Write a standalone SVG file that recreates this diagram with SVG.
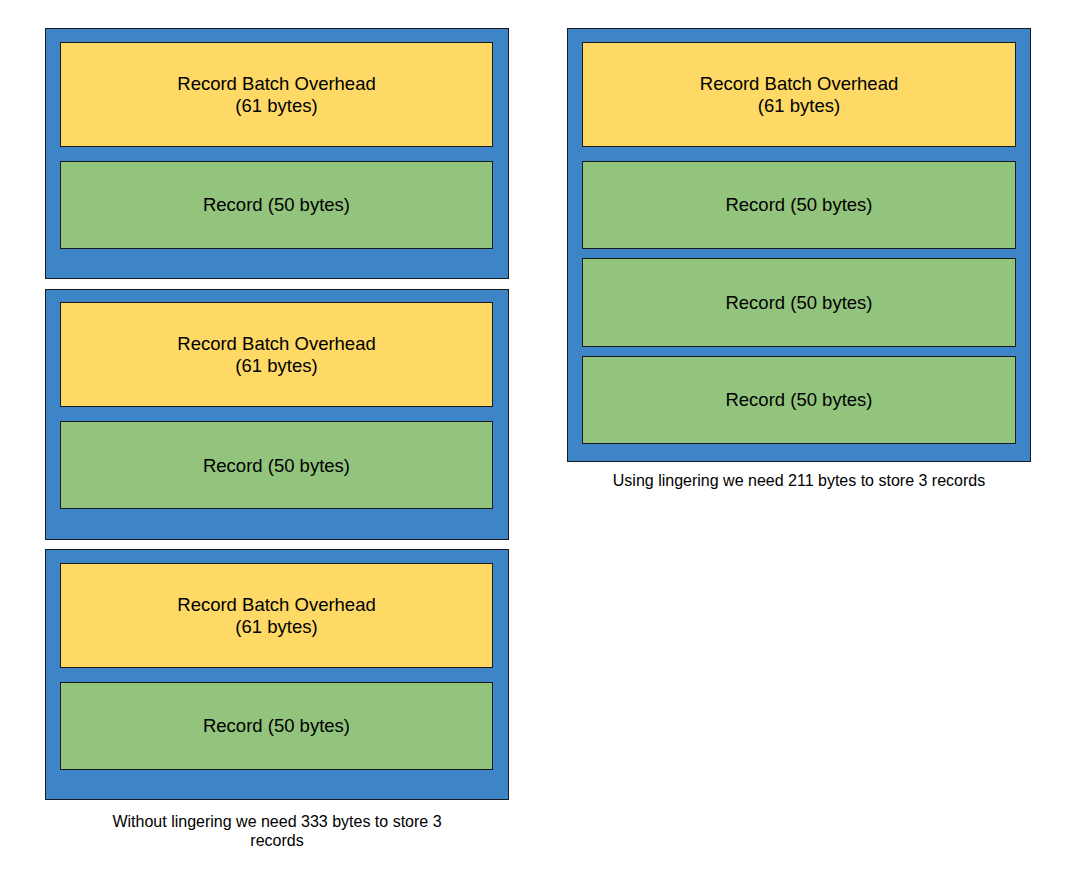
<svg xmlns="http://www.w3.org/2000/svg" width="1077" height="887" viewBox="0 0 1077 887">
<style>
.batch{fill:#3d85c6;stroke:#1a1a1a;stroke-width:1}
.ovh{fill:#ffd966;stroke:#1a1a1a;stroke-width:1}
.rec{fill:#93c47d;stroke:#1a1a1a;stroke-width:1}
.t{font-family:"Liberation Sans",Arial,sans-serif;font-size:18.5px;fill:#000;text-anchor:middle}
.c{font-family:"Liberation Sans",Arial,sans-serif;font-size:16px;fill:#000;text-anchor:middle}
</style>
<rect width="1077" height="887" fill="#fff"/>
<g id="batch1">
<rect class="batch" x="45.5" y="28.5" width="463" height="250"/>
<rect class="ovh" x="60.5" y="42.5" width="432" height="104"/>
<text class="t" x="276.5" y="90">Record Batch Overhead</text>
<text class="t" x="276.5" y="112">(61 bytes)</text>
<rect class="rec" x="60.5" y="161.5" width="432" height="87"/>
<text class="t" x="276.5" y="211">Record (50 bytes)</text>
</g>
<g id="batch2">
<rect class="batch" x="45.5" y="289.5" width="463" height="250"/>
<rect class="ovh" x="60.5" y="302.5" width="432" height="104"/>
<text class="t" x="276.5" y="350">Record Batch Overhead</text>
<text class="t" x="276.5" y="372">(61 bytes)</text>
<rect class="rec" x="60.5" y="421.5" width="432" height="87"/>
<text class="t" x="276.5" y="472">Record (50 bytes)</text>
</g>
<g id="batch3">
<rect class="batch" x="45.5" y="549.5" width="463" height="250"/>
<rect class="ovh" x="60.5" y="563.5" width="432" height="104"/>
<text class="t" x="276.5" y="611">Record Batch Overhead</text>
<text class="t" x="276.5" y="633">(61 bytes)</text>
<rect class="rec" x="60.5" y="682.5" width="432" height="87"/>
<text class="t" x="276.5" y="732">Record (50 bytes)</text>
</g>
<g id="caption-left">
<text class="c" x="277" y="827">Without lingering we need 333 bytes to store 3</text>
<text class="c" x="277" y="846">records</text>
</g>
<g id="batch-linger">
<rect class="batch" x="567.5" y="28.5" width="463" height="433"/>
<rect class="ovh" x="582.5" y="42.5" width="433" height="104"/>
<text class="t" x="799" y="90">Record Batch Overhead</text>
<text class="t" x="799" y="112">(61 bytes)</text>
<rect class="rec" x="582.5" y="161.5" width="433" height="87"/>
<text class="t" x="799" y="211">Record (50 bytes)</text>
<rect class="rec" x="582.5" y="258.5" width="433" height="88"/>
<text class="t" x="799" y="309">Record (50 bytes)</text>
<rect class="rec" x="582.5" y="356.5" width="433" height="87"/>
<text class="t" x="799" y="406">Record (50 bytes)</text>
</g>
<g id="caption-right">
<text class="c" x="799" y="486">Using lingering we need 211 bytes to store 3 records</text>
</g>
<g id="connectors"/>
</svg>
